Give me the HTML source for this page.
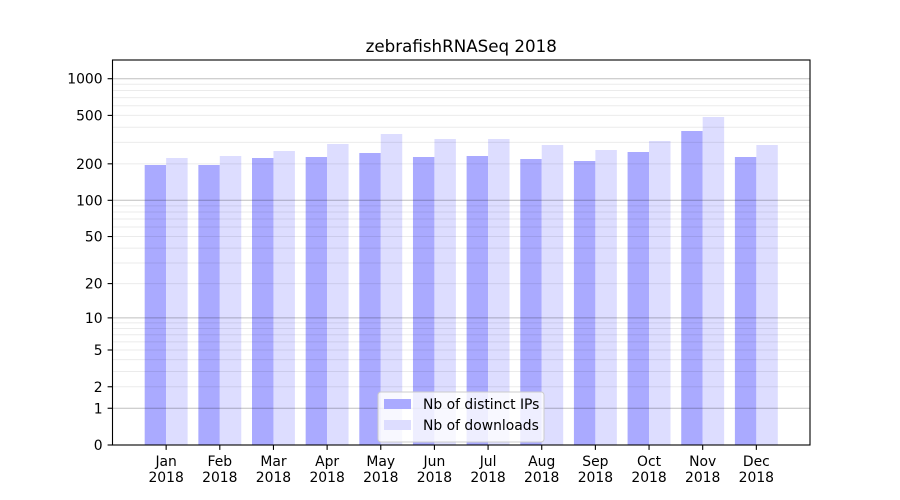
<!DOCTYPE html>
<html><head><meta charset="utf-8"><style>
html,body{margin:0;padding:0;background:#fff;}
svg{display:block;font-family:"DejaVu Sans","Liberation Sans",sans-serif;}
</style></head><body>
<svg width="900" height="500" viewBox="0 0 900 500" xmlns="http://www.w3.org/2000/svg">
<rect width="900" height="500" fill="#fff"/>
<!-- bars -->
<g>
<rect x="144.69" y="165" width="21.46" height="280" fill="#aaaaff"/>
<rect x="166.15" y="158" width="21.46" height="287" fill="#ddddff"/>
<rect x="198.35" y="165" width="21.46" height="280" fill="#aaaaff"/>
<rect x="219.81" y="156" width="21.46" height="289" fill="#ddddff"/>
<rect x="252.00" y="158" width="21.46" height="287" fill="#aaaaff"/>
<rect x="273.46" y="151" width="21.46" height="294" fill="#ddddff"/>
<rect x="305.66" y="157" width="21.46" height="288" fill="#aaaaff"/>
<rect x="327.12" y="144" width="21.46" height="301" fill="#ddddff"/>
<rect x="359.31" y="153" width="21.46" height="292" fill="#aaaaff"/>
<rect x="380.77" y="134" width="21.46" height="311" fill="#ddddff"/>
<rect x="412.96" y="157" width="21.46" height="288" fill="#aaaaff"/>
<rect x="434.42" y="139" width="21.46" height="306" fill="#ddddff"/>
<rect x="466.62" y="156" width="21.46" height="289" fill="#aaaaff"/>
<rect x="488.08" y="139" width="21.46" height="306" fill="#ddddff"/>
<rect x="520.27" y="159" width="21.46" height="286" fill="#aaaaff"/>
<rect x="541.73" y="145" width="21.46" height="300" fill="#ddddff"/>
<rect x="573.92" y="161" width="21.46" height="284" fill="#aaaaff"/>
<rect x="595.38" y="150" width="21.46" height="295" fill="#ddddff"/>
<rect x="627.58" y="152" width="21.46" height="293" fill="#aaaaff"/>
<rect x="649.04" y="141" width="21.46" height="304" fill="#ddddff"/>
<rect x="681.23" y="131" width="21.46" height="314" fill="#aaaaff"/>
<rect x="702.69" y="117" width="21.46" height="328" fill="#ddddff"/>
<rect x="734.89" y="157" width="21.46" height="288" fill="#aaaaff"/>
<rect x="756.35" y="145" width="21.46" height="300" fill="#ddddff"/>
</g>
<!-- minor grid -->
<g stroke="rgba(0,0,0,0.08)" stroke-width="1">
<line x1="112.5" x2="810" y1="386.76" y2="386.76"/>
<line x1="112.5" x2="810" y1="371.5" y2="371.5"/>
<line x1="112.5" x2="810" y1="359.67" y2="359.67"/>
<line x1="112.5" x2="810" y1="350.0" y2="350.0"/>
<line x1="112.5" x2="810" y1="341.83" y2="341.83"/>
<line x1="112.5" x2="810" y1="334.75" y2="334.75"/>
<line x1="112.5" x2="810" y1="328.51" y2="328.51"/>
<line x1="112.5" x2="810" y1="322.92" y2="322.92"/>
<line x1="112.5" x2="810" y1="283.59" y2="283.59"/>
<line x1="112.5" x2="810" y1="262.94" y2="262.94"/>
<line x1="112.5" x2="810" y1="248.12" y2="248.12"/>
<line x1="112.5" x2="810" y1="236.54" y2="236.54"/>
<line x1="112.5" x2="810" y1="227.05" y2="227.05"/>
<line x1="112.5" x2="810" y1="219.0" y2="219.0"/>
<line x1="112.5" x2="810" y1="212.01" y2="212.01"/>
<line x1="112.5" x2="810" y1="205.84" y2="205.84"/>
<line x1="112.5" x2="810" y1="163.83" y2="163.83"/>
<line x1="112.5" x2="810" y1="142.42" y2="142.42"/>
<line x1="112.5" x2="810" y1="127.21" y2="127.21"/>
<line x1="112.5" x2="810" y1="115.41" y2="115.41"/>
<line x1="112.5" x2="810" y1="105.76" y2="105.76"/>
<line x1="112.5" x2="810" y1="97.6" y2="97.6"/>
<line x1="112.5" x2="810" y1="90.53" y2="90.53"/>
<line x1="112.5" x2="810" y1="84.29" y2="84.29"/>
</g>
<!-- major grid -->
<g stroke="rgba(0,0,0,0.25)" stroke-width="1">
<line x1="112.5" x2="810" y1="408.25" y2="408.25"/>
<line x1="112.5" x2="810" y1="317.87" y2="317.87"/>
<line x1="112.5" x2="810" y1="200.31" y2="200.31"/>
<line x1="112.5" x2="810" y1="78.71" y2="78.71"/>
</g>
<!-- axes frame -->
<rect x="112.5" y="60" width="697.5" height="385" fill="none" stroke="#000" stroke-width="1.1"/>
<!-- y ticks -->
<g stroke="#000" stroke-width="1.1">
<line x1="107.6" x2="112.5" y1="445" y2="445"/>
<line x1="107.6" x2="112.5" y1="408.25" y2="408.25"/>
<line x1="107.6" x2="112.5" y1="386.76" y2="386.76"/>
<line x1="107.6" x2="112.5" y1="350.0" y2="350.0"/>
<line x1="107.6" x2="112.5" y1="317.87" y2="317.87"/>
<line x1="107.6" x2="112.5" y1="283.59" y2="283.59"/>
<line x1="107.6" x2="112.5" y1="236.54" y2="236.54"/>
<line x1="107.6" x2="112.5" y1="200.31" y2="200.31"/>
<line x1="107.6" x2="112.5" y1="163.83" y2="163.83"/>
<line x1="107.6" x2="112.5" y1="115.41" y2="115.41"/>
<line x1="107.6" x2="112.5" y1="78.71" y2="78.71"/>
</g>
<g font-size="13.9" fill="#000" text-anchor="end">
<text x="102.6" y="450">0</text>
<text x="102.6" y="413.25">1</text>
<text x="102.6" y="391.76">2</text>
<text x="102.6" y="355.0">5</text>
<text x="102.6" y="322.87">10</text>
<text x="102.6" y="288.59">20</text>
<text x="102.6" y="241.54">50</text>
<text x="102.6" y="205.31">100</text>
<text x="102.6" y="168.83">200</text>
<text x="102.6" y="120.41">500</text>
<text x="102.6" y="83.71">1000</text>
</g>
<!-- x ticks -->
<g stroke="#000" stroke-width="1.1">
<line x1="166.15" x2="166.15" y1="445" y2="449.9"/>
<line x1="219.81" x2="219.81" y1="445" y2="449.9"/>
<line x1="273.46" x2="273.46" y1="445" y2="449.9"/>
<line x1="327.12" x2="327.12" y1="445" y2="449.9"/>
<line x1="380.77" x2="380.77" y1="445" y2="449.9"/>
<line x1="434.42" x2="434.42" y1="445" y2="449.9"/>
<line x1="488.08" x2="488.08" y1="445" y2="449.9"/>
<line x1="541.73" x2="541.73" y1="445" y2="449.9"/>
<line x1="595.38" x2="595.38" y1="445" y2="449.9"/>
<line x1="649.04" x2="649.04" y1="445" y2="449.9"/>
<line x1="702.69" x2="702.69" y1="445" y2="449.9"/>
<line x1="756.35" x2="756.35" y1="445" y2="449.9"/>
</g>
<g font-size="13.9" fill="#000" text-anchor="middle">
<text x="166.15" y="466">Jan</text><text x="166.15" y="482">2018</text>
<text x="219.81" y="466">Feb</text><text x="219.81" y="482">2018</text>
<text x="273.46" y="466">Mar</text><text x="273.46" y="482">2018</text>
<text x="327.12" y="466">Apr</text><text x="327.12" y="482">2018</text>
<text x="380.77" y="466">May</text><text x="380.77" y="482">2018</text>
<text x="434.42" y="466">Jun</text><text x="434.42" y="482">2018</text>
<text x="488.08" y="466">Jul</text><text x="488.08" y="482">2018</text>
<text x="541.73" y="466">Aug</text><text x="541.73" y="482">2018</text>
<text x="595.38" y="466">Sep</text><text x="595.38" y="482">2018</text>
<text x="649.04" y="466">Oct</text><text x="649.04" y="482">2018</text>
<text x="702.69" y="466">Nov</text><text x="702.69" y="482">2018</text>
<text x="756.35" y="466">Dec</text><text x="756.35" y="482">2018</text>
</g>
<!-- title -->
<text x="461.25" y="52" font-size="16.7" text-anchor="middle" fill="#000">zebrafishRNASeq 2018</text>
<!-- legend -->
<rect x="378" y="392" width="166" height="50" rx="3" fill="rgba(255,255,255,0.8)" stroke="#cccccc" stroke-width="1"/>
<rect x="384" y="399" width="27" height="10" fill="#aaaaff"/>
<rect x="384" y="420" width="27" height="10" fill="#ddddff"/>
<g font-size="13.9" fill="#000">
<text x="423" y="409">Nb of distinct IPs</text>
<text x="423" y="430">Nb of downloads</text>
</g>
</svg>
</body></html>
